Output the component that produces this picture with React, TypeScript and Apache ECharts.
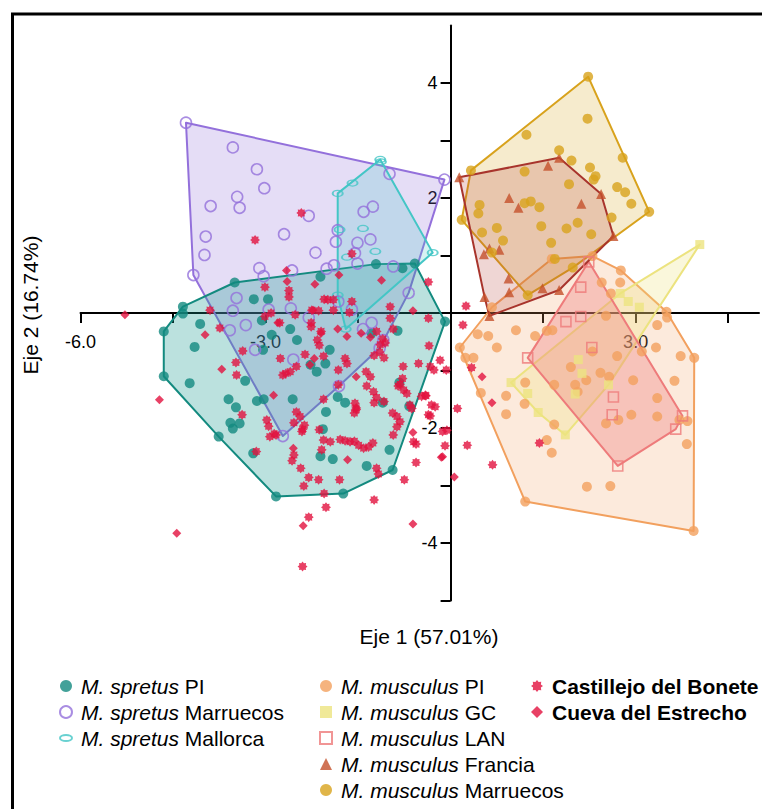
import React, { useEffect, useRef } from 'react';
import * as echarts from 'echarts';

const FONT = '"Liberation Sans", Arial, sans-serif';

const xTickValues = [-6, -4.5, -3, -1.5, 1.5, 3, 4.5];
const xLabelValues = [-6, -3, 3];
const yTickValues = [-5, -4, -3, -2, -1, 1, 2, 3, 4];
const yLabelValues = [-4, -2, 2, 4];

const spretusPI: number[][] = [
  [-4.65, -0.32], [-4.06, -0.19], [-4.15, -0.59], [-4.23, -1.22], [-4.65, -1.10], [-3.60, -1.50], [-3.48, -1.64],
  [-3.57, -1.91], [-3.53, -2.01], [-3.42, -1.92], [-3.33, -1.18], [-3.76, -2.15], [-3.14, -1.53], [-3.03, -1.50],
  [-3.20, -2.44], [-2.83, -3.19], [-2.56, -1.50], [-2.60, -0.28], [-2.49, -0.47], [-2.90, -0.38], [-3.04, -0.64],
  [-2.27, -0.90], [-2.17, -1.02], [-2.03, -0.88], [-1.96, -0.64], [-1.83, -1.46], [-1.71, -1.56], [-1.10, -1.56],
  [-2.02, -1.72], [-2.07, -2.02], [-2.11, -2.49], [-1.91, -2.54], [-1.36, -2.66], [-1.74, -3.14], [-0.94, -2.73],
  [-0.99, -2.38], [-0.83, -1.21], [-0.67, -1.62], [-0.86, -0.31], [-1.28, -0.35], [-0.09, -0.15], [-3.06, -0.13],
  [-4.34, -0.01], [-4.34, 0.11], [-3.50, 0.53], [-2.11, 0.63], [-1.21, 0.85], [-0.78, 0.78], [-0.58, 0.86],
  [-3.19, 0.24], [-2.96, 0.24],
];

const spretusMarruecos: number[][] = [
  [-4.29, 3.31], [-3.53, 2.88], [-3.14, 2.50], [-3.02, 2.17], [-3.46, 2.02], [-3.42, 1.83], [-3.89, 1.86],
  [-2.30, 1.69], [-2.70, 1.37], [-3.97, 1.33], [-3.99, 1.01], [-2.19, 1.05], [-4.17, 0.66], [-3.10, 0.78],
  [-3.03, 0.64], [-2.57, 0.74], [-2.01, 0.77], [-1.89, 0.83], [-1.83, 1.44], [-1.86, 1.24], [-1.55, 1.04],
  [-1.51, 1.22], [-1.30, 1.28], [-1.41, 1.76], [-1.26, 1.85], [-0.99, 2.42], [-0.10, 2.32], [-0.93, 0.81],
  [-1.51, 0.86], [-0.68, 0.35], [-3.47, 0.26], [-3.53, 0.04], [-2.95, 0.06], [-2.59, 0.08], [-1.82, 0.20],
  [-1.60, 0.06], [-1.28, -0.17], [-1.42, -0.28], [-3.58, -0.30], [-3.32, -0.21], [-2.30, -0.08], [-3.17, -0.64],
  [-2.55, -0.81], [-2.72, -2.14], [-1.81, -1.27], [-1.15, -0.61], [-1.09, -0.47],
];

const spretusMallorca: number[][] = [
  [-1.14, 2.67], [-1.13, 2.63], [-1.59, 2.26], [-1.83, 2.08], [-1.42, 1.47], [-1.22, 1.07], [-0.29, 1.05],
  [-1.68, 0.97], [-1.83, 0.31], [-1.70, -0.28], [-1.80, 1.45],
];

const musculusPI: number[][] = [
  [2.30, 0.99], [1.64, 0.94], [2.76, 0.74], [2.45, 0.53], [2.75, 0.53], [2.60, 0.34], [3.50, 0.02], [3.51, -0.08],
  [3.35, -0.21], [2.52, -0.05], [1.65, -0.30], [1.56, -0.31], [1.37, -0.40], [1.06, -0.30], [0.44, -0.37],
  [0.61, -0.40], [0.75, -0.60], [0.15, -0.60], [0.24, -0.78], [0.37, -0.78], [0.49, -1.39], [0.90, -1.44],
  [0.90, -1.76], [1.21, -1.21], [1.20, -1.58], [1.68, -1.25], [1.68, -1.94], [1.56, -2.21], [1.64, -2.43],
  [1.95, -0.94], [2.20, -1.17], [2.02, -1.25], [2.06, -1.37], [2.43, -1.04], [2.57, -1.11], [2.30, -0.67],
  [2.70, -0.75], [3.10, -0.67], [3.33, -0.60], [3.73, -0.75], [3.95, -0.78], [2.96, -1.17], [3.63, -1.18],
  [3.35, -1.48], [2.93, -1.77], [3.35, -1.80], [2.72, -1.86], [2.52, -1.92], [3.71, -1.86], [3.84, -1.88],
  [3.83, -2.28], [2.21, -3.02], [2.59, -3.01], [1.21, -3.28], [3.94, -3.79], [0.67, 0.10],
];

const musculusGC: number[][] = [
  [4.04, 1.19], [2.75, 0.34], [2.88, 0.20], [3.06, 0.10], [2.07, -0.81], [2.13, -1.05], [2.02, -1.41],
  [2.56, -1.25], [0.98, -1.21], [1.25, -1.40], [1.42, -1.73], [1.86, -2.12],
];

const musculusLAN: number[][] = [
  [2.24, 0.89], [2.11, 0.45], [2.11, -0.06], [1.87, -0.15], [2.29, -0.60], [1.25, -0.78], [2.64, -1.46],
  [2.62, -1.77], [3.76, -1.79], [3.65, -2.02], [2.71, -2.66],
];

const musculusFrancia: number[][] = [
  [0.14, 2.36], [1.58, 2.56], [1.76, 2.70], [2.44, 2.07], [0.95, 2.00], [1.10, 1.83], [2.12, 1.90], [2.64, 1.34],
  [0.63, 1.12], [0.79, 1.10], [0.54, 1.02], [0.94, 0.60], [0.95, 0.36], [1.49, 0.43], [1.76, 0.40], [0.55, 0.28],
  [0.63, -0.05],
];

const musculusMarruecos: number[][] = [
  [2.23, 4.11], [2.22, 3.38], [1.23, 3.10], [1.76, 2.83], [1.96, 2.65], [2.79, 2.70], [2.26, 2.53], [2.35, 2.38],
  [2.32, 2.32], [1.20, 2.46], [1.92, 2.24], [2.70, 2.19], [2.83, 2.10], [2.93, 1.90], [3.22, 1.76], [2.61, 1.66],
  [0.47, 1.88], [0.45, 1.73], [1.44, 1.84], [1.20, 1.91], [1.30, 1.94], [0.75, 1.48], [0.51, 1.40], [1.47, 1.51],
  [0.85, 1.26], [1.88, 1.47], [2.06, 1.57], [2.28, 1.37], [1.63, 1.22], [1.69, 0.94], [1.98, 0.79], [1.25, 0.31],
  [0.18, 1.62], [0.33, 2.48], [0.67, 1.05],
];

const castillejo: number[][] = [
  [-3.74, -0.26], [-3.90, 0.05], [-3.47, -1.08], [-3.48, -0.86], [-3.37, -0.66], [-3.38, -1.77], [-3.01, 0.45],
  [-2.98, -1.86], [-2.95, -1.97], [-2.86, -2.10], [-2.93, -2.15], [-2.42, 1.74], [-3.17, 1.27], [-1.60, 1.03],
  [-0.36, 0.54], [-2.62, 0.39], [-2.62, 0.28], [-1.99, 0.23], [-1.90, 0.23], [-1.60, 0.20], [-1.90, 0.05],
  [-1.64, 0.01], [-0.98, 0.11], [-0.98, -0.09], [-0.36, -0.09], [-0.35, -0.57], [-2.26, -0.17], [-2.26, -0.24],
  [-2.91, 0.00], [-1.10, -0.45], [-1.06, -0.52], [-1.14, -0.55], [-2.05, 0.24], [-2.25, 0.05], [-2.14, 0.04],
  [-3.01, -0.06], [-2.52, -0.03], [-2.77, -0.17], [-2.10, -0.32], [-2.16, -0.47], [-2.13, -0.56], [-1.20, -0.32],
  [-1.15, -0.68], [-1.24, -0.74], [-1.08, -0.78], [-0.93, -0.28], [-0.52, -0.88], [-0.77, -0.93], [-0.78, -1.14],
  [-0.85, -1.27], [-0.71, -1.40], [-0.66, -1.60], [-0.33, -0.93], [-0.27, -0.99], [-0.17, -0.82], [-0.47, -1.45],
  [-0.40, -1.44], [-0.63, -1.66], [-0.33, -1.79], [-0.31, -1.60], [-0.56, -2.28], [-2.76, -0.79], [-2.67, -1.05],
  [-2.60, -1.02], [-2.72, -1.08], [-2.50, -0.93], [-2.36, -0.72], [-2.06, -0.75], [-1.82, -0.99], [-1.71, -0.79],
  [-1.68, -0.88], [-1.37, -1.02], [-1.30, -1.11], [-1.36, -1.27], [-1.25, -1.37], [-1.20, -1.47], [-1.24, -1.56],
  [-1.53, -1.68], [-1.56, -1.74], [-2.44, -1.80], [-2.50, -1.72], [-2.37, -1.95], [-2.41, -2.06], [-2.13, -2.03],
  [-2.06, -2.21], [-1.95, -2.24], [-1.79, -2.20], [-1.71, -2.22], [-1.63, -2.24], [-1.56, -2.23], [-1.49, -2.30],
  [-1.41, -2.35], [-1.33, -2.33], [-1.26, -2.26], [-0.94, -1.74], [-0.87, -1.80], [-0.82, -1.89], [-0.87, -1.98],
  [-0.93, -2.12], [-1.08, -1.54], [-1.82, -1.25], [-2.06, -1.50], [-2.54, -1.91], [-2.40, -2.02], [-2.83, -2.12],
  [-3.15, -2.41], [-2.54, -2.47], [-2.57, -2.57], [-2.43, -2.70], [-2.30, -2.86], [-2.38, -3.01], [-2.14, -2.90],
  [-2.05, -3.14], [-2.02, -3.38], [-2.30, -3.55], [-2.40, -4.41], [-2.09, -2.38], [-1.80, -2.90], [-1.24, -3.25],
  [-1.20, -2.70], [-1.17, -2.80], [-0.75, -2.90], [-0.56, -2.60], [-0.60, -2.24], [-0.36, -1.77], [-0.25, -1.63],
  [-0.13, -2.06], [-0.09, -2.31], [0.11, -1.66], [0.27, -2.30], [-1.53, -1.65], [-1.55, -1.57], [-0.76, -1.34],
  [-0.82, -1.24], [-0.41, -1.43], [0.25, 0.12], [0.20, -0.21], [0.34, -0.95], [1.44, -2.26], [0.68, -2.64],
  [-0.06, -2.04], [-0.07, -0.99],
];

const cueva: number[][] = [
  [-5.28, -0.03], [-4.72, -1.51], [-3.98, -0.38], [-3.71, -0.98], [-2.87, -1.43], [-4.44, -3.83], [-2.66, 0.74],
  [-1.81, 0.66], [-1.12, 0.57], [-2.20, 0.50], [-2.23, 0.05], [-0.61, 0.04], [-1.68, -0.41], [-1.83, -0.28],
  [-2.10, -0.35], [-2.80, -0.17], [-1.45, -0.35], [-2.28, -0.90], [-2.21, -0.79], [-1.53, -1.11], [-2.55, -2.35],
  [-2.39, -3.70], [-1.67, -2.55], [-0.61, -3.67], [-0.15, -2.51], [0.06, -2.85], [0.51, -1.11], [0.67, -1.56],
  [-0.61, -2.08], [-0.13, -2.50], [-2.65, 0.55], [-1.30, -0.42],
];

const X_MIN = -6;
const X_MAX = 5;
const Y_MIN = -5;
const Y_MAX = 5;

function convexHull(points: number[][]): number[][] {
  const pts = points.map((p) => [p[0], p[1]]).sort((a, b) => a[0] - b[0] || a[1] - b[1]);
  const cross = (o: number[], a: number[], b: number[]) =>
    (a[0] - o[0]) * (b[1] - o[1]) - (a[1] - o[1]) * (b[0] - o[0]);
  const lower: number[][] = [];
  for (const p of pts) {
    while (lower.length >= 2 && cross(lower[lower.length - 2], lower[lower.length - 1], p) <= 0) lower.pop();
    lower.push(p);
  }
  const upper: number[][] = [];
  for (let i = pts.length - 1; i >= 0; i--) {
    const p = pts[i];
    while (upper.length >= 2 && cross(upper[upper.length - 2], upper[upper.length - 1], p) <= 0) upper.pop();
    upper.push(p);
  }
  upper.pop();
  lower.pop();
  return lower.concat(upper);
}

function starPath(): string {
  const parts: string[] = [];
  for (let i = 0; i < 16; i++) {
    const r = i % 2 === 0 ? 10 : 7;
    const a = (i * Math.PI) / 8 - Math.PI / 2;
    parts.push(`${i === 0 ? 'M' : 'L'}${(10 + r * Math.cos(a)).toFixed(2)},${(10 + r * Math.sin(a)).toFixed(2)}`);
  }
  return 'path://' + parts.join(' ') + ' Z';
}

const ELLIPSE = 'path://M0,5 A10,5 0 1,1 20,5 A10,5 0 1,1 0,5 Z';

function hullSeries(id: string, pts: number[][], stroke: string, fill: string, z: number) {
  const hull = convexHull(pts);
  return {
    type: 'custom',
    id: 'hull-' + id,
    coordinateSystem: 'cartesian2d',
    silent: true,
    z,
    data: [[hull[0][0], hull[0][1]]],
    encode: { x: 0, y: 1 },
    renderItem: (_params: any, api: any) => ({
      type: 'polygon',
      shape: { points: hull.map((p) => api.coord(p)) },
      style: { fill, stroke, lineWidth: 2, lineJoin: 'round' },
    }),
  };
}

export default function App() {
  const ref = useRef<HTMLDivElement>(null);

  useEffect(() => {
    if (!ref.current) return;
    const chart = echarts.init(ref.current, null, { renderer: 'svg' });

    const GRID_LEFT = 80.5;
    const GRID_TOP = 25.5;
    const GRID_W = 678.5;
    const GRID_H = 575;
    // move the axes so that they cross at the origin
    const xAxisOffset = -GRID_H * ((0 - Y_MIN) / (Y_MAX - Y_MIN));
    const yAxisOffset = -GRID_W * ((0 - X_MIN) / (X_MAX - X_MIN));

    const C = {
      teal: '#138a7f',
      purple: '#9370db',
      turq: '#44c6c6',
      orange: '#f2a05e',
      gc: '#ece37f',
      lan: '#ee7b7b',
      francia: '#c4502a',
      franciaLine: '#a8342c',
      gold: '#d8a21c',
      red: '#e2123e',
    };

    const scatter = (name: string, data: number[][], symbol: string, size: any, itemStyle: any, z = 3) => ({
      type: 'scatter',
      name,
      data,
      symbol,
      symbolSize: size,
      itemStyle,
      z,
      emphasis: { disabled: true },
    });

    const formatter = (name: string) => {
      if (name.startsWith('M. ')) {
        const parts = name.split(' ');
        return `{s|}{i|${parts[0]} ${parts[1]}}{n| ${parts.slice(2).join(' ')}}`;
      }
      return `{s|}{b|${name}}`;
    };

    const legendBase = {
      orient: 'vertical',
      top: 673,
      itemWidth: 12,
      itemHeight: 12,
      itemGap: 0,
      itemTextGap: 5,
      padding: 0,
      selectedMode: false,
      formatter,
      textStyle: {
        fontSize: 21,
        lineHeight: 26,
        color: '#000',
        fontFamily: FONT,
        rich: {
          s: { width: 4, lineHeight: 26 },
          i: { fontStyle: 'italic', fontSize: 21, lineHeight: 26, fontFamily: FONT, color: '#000' },
          n: { fontSize: 21, lineHeight: 26, fontFamily: FONT, color: '#000' },
          b: { fontWeight: 'bold', fontSize: 21, lineHeight: 26, fontFamily: FONT, color: '#000' },
        },
      },
    };

    const option: any = {
      animation: false,
      backgroundColor: '#fff',
      grid: { left: GRID_LEFT, top: GRID_TOP, width: GRID_W, height: GRID_H, containLabel: false },
      xAxis: {
        type: 'value',
        min: X_MIN,
        max: X_MAX,
        position: 'bottom',
        offset: xAxisOffset,
        axisLine: { onZero: false, lineStyle: { color: '#000', width: 2 } },
        axisTick: { show: true, length: 10, customValues: xTickValues, lineStyle: { color: '#000', width: 2 } },
        axisLabel: {
          customValues: xLabelValues,
          formatter: (v: number) => v.toFixed(1),
          fontSize: 18,
          color: '#000',
          fontFamily: FONT,
          margin: 20,
        },
        splitLine: { show: false },
      },
      yAxis: {
        type: 'value',
        min: Y_MIN,
        max: Y_MAX,
        position: 'left',
        offset: yAxisOffset,
        axisLine: { onZero: false, lineStyle: { color: '#000', width: 2 } },
        axisTick: { show: true, length: 10, customValues: yTickValues, lineStyle: { color: '#000', width: 2 } },
        axisLabel: {
          customValues: yLabelValues,
          fontSize: 18,
          color: '#000',
          fontFamily: FONT,
          margin: 13,
        },
        splitLine: { show: false },
      },
      legend: [
        { ...legendBase, left: 59, data: ['M. spretus PI', 'M. spretus Marruecos', 'M. spretus Mallorca'] },
        {
          ...legendBase,
          left: 319,
          data: ['M. musculus PI', 'M. musculus GC', 'M. musculus LAN', 'M. musculus Francia', 'M. musculus Marruecos'],
        },
        { ...legendBase, left: 531, data: ['Castillejo del Bonete', 'Cueva del Estrecho'] },
      ],
      graphic: [
        {
          type: 'text',
          x: 429,
          y: 636,
          style: { text: 'Eje 1 (57.01%)', fontSize: 21, fontFamily: FONT, fill: '#000', align: 'center', verticalAlign: 'middle' },
        },
        {
          type: 'text',
          x: 30,
          y: 305,
          rotation: Math.PI / 2,
          style: { text: 'Eje 2 (16.74%)', fontSize: 21, fontFamily: FONT, fill: '#000', align: 'center', verticalAlign: 'middle' },
        },
        {
          type: 'rect',
          shape: { x: 12.5, y: 14, width: 800, height: 850 },
          style: { fill: 'none', stroke: '#000', lineWidth: 3 },
          silent: true,
        },
      ],
      series: [
        hullSeries('smar', spretusMarruecos, C.purple, 'rgba(147,112,219,0.24)', 1),
        hullSeries('spi', spretusPI, C.teal, 'rgba(30,155,145,0.30)', 1),
        hullSeries('smal', spretusMallorca, C.turq, 'rgba(68,198,198,0.22)', 1),
        hullSeries('mpi', musculusPI, C.orange, 'rgba(242,160,94,0.22)', 1),
        hullSeries('mgc', musculusGC, C.gc, 'rgba(236,227,127,0.28)', 1),
        hullSeries('mlan', musculusLAN, C.lan, 'rgba(238,123,123,0.35)', 1),
        hullSeries('mmar', musculusMarruecos, C.gold, 'rgba(216,162,28,0.22)', 1),
        hullSeries('mfr', musculusFrancia, C.franciaLine, 'rgba(180,70,60,0.22)', 1),
        scatter('M. spretus PI', spretusPI, 'circle', 10, { color: C.teal }),
        scatter('M. spretus Marruecos', spretusMarruecos, 'circle', 11, {
          color: 'rgba(255,255,255,0)',
          borderColor: C.purple,
          borderWidth: 1.6,
        }),
        scatter('M. spretus Mallorca', spretusMallorca, ELLIPSE, [10, 6], {
          color: 'rgba(255,255,255,0)',
          borderColor: C.turq,
          borderWidth: 1.6,
        }),
        scatter('M. musculus PI', musculusPI, 'circle', 10, { color: C.orange }),
        scatter('M. musculus GC', musculusGC, 'rect', 9, { color: C.gc }),
        scatter('M. musculus LAN', musculusLAN, 'rect', 10, {
          color: 'rgba(255,255,255,0)',
          borderColor: C.lan,
          borderWidth: 1.6,
        }),
        scatter('M. musculus Francia', musculusFrancia, 'triangle', 10, { color: C.francia }),
        scatter('M. musculus Marruecos', musculusMarruecos, 'circle', 10, { color: C.gold }),
        scatter('Castillejo del Bonete', castillejo, starPath(), 10, { color: C.red }, 4),
        scatter('Cueva del Estrecho', cueva, 'diamond', 9, { color: C.red }, 4),
      ],
    };

    chart.setOption(option);
    return () => chart.dispose();
  }, []);

  return <div ref={ref} style={{ position: 'absolute', left: 0, top: 0, width: 762, height: 809 }} />;
}
